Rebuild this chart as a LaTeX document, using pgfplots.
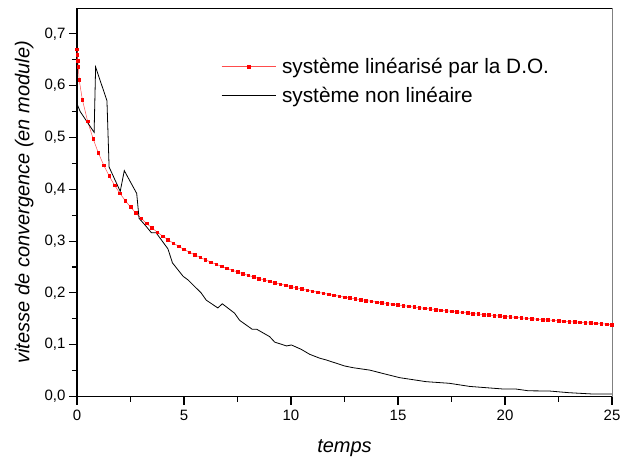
\documentclass[border=0pt]{standalone}
\usepackage{pgfplots}
\pgfplotsset{compat=1.18}
\usepackage{fontspec}
\setmainfont{Liberation Sans}
\begin{document}
\begin{tikzpicture}
\useasboundingbox (0,0) rectangle (621bp,463bp);
\begin{axis}[
  at={(77bp,66.5bp)}, anchor=south west,
  scale only axis, width=535bp, height=388.5bp,
  xmin=0, xmax=25, ymin=0, ymax=0.75,
  clip=false,
  axis x line*=bottom, axis y line*=left,
  axis line style={line width=1.6bp, -},
  xtick={0,5,10,15,20,25}, minor xtick={2.5,7.5,12.5,17.5,22.5},
  ytick={0,0.1,0.2,0.3,0.4,0.5,0.6,0.7},
  minor ytick={0.05,0.15,0.25,0.35,0.45,0.55,0.65},
  tick align=outside,
  major tick length=8bp, minor tick length=5bp,
  every tick/.style={line width=1.1bp, black},
  every minor tick/.style={line width=1.1bp, black},
  /pgf/number format/assume math mode=true,
  tick label style={font=\fontsize{15bp}{18bp}\selectfont},
  xticklabel style={yshift=-2bp},
  yticklabel style={/pgf/number format/.cd, fixed, fixed zerofill, precision=1, use comma},
  every axis x label/.style={at={(axis description cs:0.5,-0.1326)}, anchor=center},
  every axis y label/.style={at={(axis description cs:-0.0987,0.5)}, rotate=90, anchor=center},
  label style={font=\fontsize{20bp}{24bp}\selectfont\itshape},
  xlabel={temps},
  ylabel={vitesse de convergence (en module)},
  legend cell align=left,
  legend style={at={(axis description cs:0.2692,0.812)}, anchor=west, draw=none, fill=none,
    font=\fontsize{20.8bp}{25bp}\selectfont, inner sep=0pt, column sep=6bp, row sep=12.3bp,
    nodes={inner sep=0pt}},
  legend image code/.code={\draw[mark repeat=2,mark phase=2,#1] plot coordinates {(0bp,0bp) (27bp,0bp) (54bp,0bp)};},
]
\addplot[red!70, line width=0.5bp, mark=square*, mark size=1.3bp, mark options={solid, red, draw=none}] coordinates {
(0,0.670) (0.02,0.660) (0.04,0.648) (0.06,0.637) (0.1,0.612) (0.25,0.573) (0.5,0.531) (0.75,0.498)
(1.0,0.470) (1.25,0.4465) (1.5,0.426) (1.75,0.408) (2.0,0.3925) (2.25,0.3784) (2.5,0.3658) (2.75,0.3543)
(3.0,0.3438) (3.25,0.3343) (3.5,0.3254) (3.75,0.3173) (4.0,0.3097) (4.25,0.3027) (4.5,0.2961) (4.75,0.2899)
(5.0,0.2841) (5.25,0.2786) (5.5,0.2734) (5.75,0.2685) (6.0,0.2639) (6.25,0.2595) (6.5,0.2553) (6.75,0.2513)
(7.0,0.2475) (7.25,0.2438) (7.5,0.2404) (7.75,0.2370) (8.0,0.2338) (8.25,0.2307) (8.5,0.2278) (8.75,0.2249)
(9.0,0.2222) (9.25,0.2195) (9.5,0.2170) (9.75,0.2145) (10.0,0.2121) (10.25,0.2098) (10.5,0.2076) (10.75,0.2054)
(11.0,0.2033) (11.25,0.2013) (11.5,0.1993) (11.75,0.1974) (12.0,0.1955) (12.25,0.1937) (12.5,0.1919) (12.75,0.1902)
(13.0,0.1885) (13.25,0.1869) (13.5,0.1853) (13.75,0.1838) (14.0,0.1823) (14.25,0.1808) (14.5,0.1794) (14.75,0.1780)
(15.0,0.1766) (15.25,0.1753) (15.5,0.1740) (15.75,0.1727) (16.0,0.1714) (16.25,0.1702) (16.5,0.1690) (16.75,0.1678)
(17.0,0.1667) (17.25,0.1655) (17.5,0.1644) (17.75,0.1634) (18.0,0.1623) (18.25,0.1613) (18.5,0.1602) (18.75,0.1592)
(19.0,0.1582) (19.25,0.1573) (19.5,0.1563) (19.75,0.1554) (20.0,0.1545) (20.25,0.1536) (20.5,0.1527) (20.75,0.1518)
(21.0,0.1510) (21.25,0.1501) (21.5,0.1493) (21.75,0.1485) (22.0,0.1477) (22.25,0.1469) (22.5,0.1462) (22.75,0.1454)
(23.0,0.1446) (23.25,0.1439) (23.5,0.1432) (23.75,0.1425) (24.0,0.1418) (24.25,0.1411) (24.5,0.1404) (24.75,0.1397)
(25.0,0.1390)
};
\addlegendentry{système linéarisé par la D.O.}
\addplot[black, line width=0.8bp] coordinates {
(0,0.565) (0.15,0.55) (0.8,0.51) (0.87,0.636) (1.4,0.571) (1.5,0.443) (2.02,0.396) (2.21,0.436)
(2.79,0.392) (2.9,0.344) (3.2,0.33) (3.48,0.316) (3.7,0.316) (4.25,0.285) (4.46,0.258) (4.96,0.232)
(5.19,0.225) (5.8,0.2) (6.04,0.186) (6.58,0.171) (6.79,0.179) (7.36,0.161) (7.6,0.147) (8.18,0.130)
(8.39,0.130) (9.0,0.1156) (9.24,0.105) (9.79,0.0976) (10.02,0.0995) (10.48,0.091) (10.87,0.0815)
(11.34,0.074) (11.65,0.0705) (12.5,0.059) (12.9,0.0556) (13.67,0.051) (15.07,0.0364) (16.32,0.0286)
(17.4,0.0255) (18.34,0.0195) (19.9,0.0145) (20.5,0.0145) (21.1,0.011) (22.07,0.0106) (23.0,0.0073)
(24.1,0.0048) (25,0.005)
};
\addlegendentry{système non linéaire}
\draw[black, line width=0.9bp] (rel axis cs:0,1) -- (rel axis cs:1,1);
\draw[gray, line width=0.9bp] (rel axis cs:1,1) -- (rel axis cs:1,0);
\end{axis}
\end{tikzpicture}
\end{document}
